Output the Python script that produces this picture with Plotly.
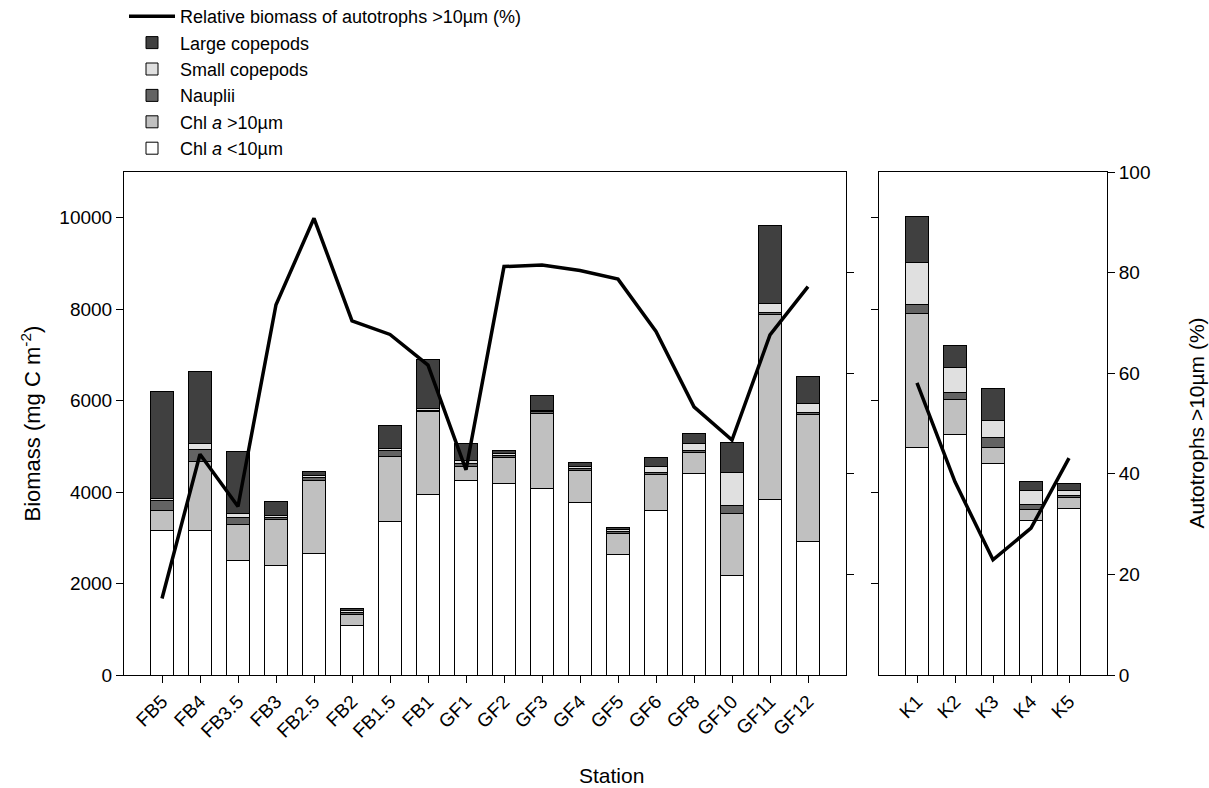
import plotly.graph_objects as go

# Stations in each region
fram_stations = ["FB5", "FB4", "FB3.5", "FB3", "FB2.5", "FB2", "FB1.5", "FB1",
                 "GF1", "GF2", "GF3", "GF4", "GF5", "GF6", "GF8", "GF10", "GF11", "GF12"]
k_stations = ["K1", "K2", "K3", "K4", "K5"]

# Biomass components (mg C m-2), Fram/GF transect
chl_small_f = [3150, 3170, 2510, 2400, 2660, 1080, 3355, 3950, 4260, 4180, 4070, 3770, 2640, 3595, 4400, 2180, 3840, 2930]
chl_large_f = [440, 1510, 790, 1010, 1600, 240, 1420, 1810, 310, 570, 1655, 695, 445, 780, 465, 1345, 4040, 2775]
nauplii_f = [220, 255, 150, 40, 60, 50, 125, 30, 60, 60, 30, 60, 50, 60, 45, 180, 40, 40]
small_cop_f = [50, 125, 80, 40, 50, 30, 60, 30, 60, 40, 30, 40, 40, 130, 160, 730, 200, 190]
large_cop_f = [2330, 1575, 1350, 310, 80, 50, 500, 1090, 370, 50, 335, 85, 55, 190, 210, 650, 1710, 600]

# Biomass components (mg C m-2), K transect
chl_small_k = [4980, 5265, 4615, 3375, 3640]
chl_large_k = [2930, 750, 365, 235, 250]
nauplii_k = [185, 160, 205, 110, 30]
small_cop_k = [935, 555, 380, 315, 105]
large_cop_k = [1005, 465, 695, 190, 160]

# Relative biomass of autotrophs >10 um (%)
rel_auto_f = [15.2, 43.9, 33.5, 73.6, 90.8, 70.4, 67.7, 61.6, 40.8, 81.2, 81.5, 80.4, 78.7, 68.3, 53.3, 46.7, 67.6, 77.2]
rel_auto_k = [58.1, 38.4, 22.9, 29.2, 43.1]

FONT = "Arial, Liberation Sans, sans-serif"
BAR_W = 0.6

components = [
    ("Chl <i>a</i> <10µm", "#ffffff", chl_small_f, chl_small_k),
    ("Chl <i>a</i> >10µm", "#c0c0c0", chl_large_f, chl_large_k),
    ("Nauplii", "#636363", nauplii_f, nauplii_k),
    ("Small copepods", "#e0e0e0", small_cop_f, small_cop_k),
    ("Large copepods", "#404040", large_cop_f, large_cop_k),
]

fig = go.Figure()
for name, color, vals_f, vals_k in components:
    marker = dict(color=color, line=dict(color="black", width=1))
    fig.add_trace(go.Bar(x=fram_stations, y=vals_f, name=name, marker=marker,
                         width=BAR_W, xaxis="x", yaxis="y", legendgroup=name))
    fig.add_trace(go.Bar(x=k_stations, y=vals_k, name=name, marker=marker,
                         width=BAR_W, xaxis="x2", yaxis="y2", legendgroup=name,
                         showlegend=False))

line_style = dict(color="black", width=3.5)
fig.add_trace(go.Scatter(x=fram_stations, y=rel_auto_f, mode="lines", line=line_style,
                         name="Relative biomass of autotrophs >10µm (%)",
                         xaxis="x", yaxis="y3", legendgroup="rel"))
fig.add_trace(go.Scatter(x=k_stations, y=rel_auto_k, mode="lines", line=line_style,
                         name="Relative biomass of autotrophs >10µm (%)",
                         xaxis="x2", yaxis="y4", legendgroup="rel", showlegend=False))

W, H = 1209, 788
ML, MR, MT, MB = 124, 102, 172, 113
pw = W - ML - MR
ph = H - MT - MB
split_l = (846 - ML) / pw
split_r = (879 - ML) / pw

axis_common = dict(showline=True, linecolor="black", linewidth=1, showgrid=False,
                   zeroline=False, ticks="outside", ticklen=7, tickwidth=1,
                   tickcolor="black", tickfont=dict(family=FONT, size=19, color="black"))

fig.update_layout(
    width=W, height=H,
    margin=dict(l=ML, r=MR, t=MT, b=MB, autoexpand=False),
    paper_bgcolor="white", plot_bgcolor="white",
    barmode="stack",
    font=dict(family=FONT, size=19, color="black"),
    xaxis=dict(domain=[0, split_l], anchor="y", type="category",
               categoryorder="array", categoryarray=fram_stations,
               range=[-1, len(fram_stations)], tickangle=-45, mirror=True, **axis_common),
    xaxis2=dict(domain=[split_r, 1], anchor="y2", type="category",
                categoryorder="array", categoryarray=k_stations,
                range=[-1, len(k_stations)], tickangle=-45, mirror=True, **axis_common),
    yaxis=dict(domain=[0, 1], anchor="x", range=[0, 11000], tickformat="d",
               tickvals=list(range(0, 10001, 2000)), mirror=True, **axis_common),
    yaxis2=dict(domain=[0, 1], anchor="x2", range=[0, 11000], matches="y",
                tickvals=list(range(2000, 10001, 2000)), showticklabels=False,
                mirror=True, **axis_common),
    yaxis3=dict(overlaying="y", anchor="x", side="right", range=[0, 100],
                tickvals=[20, 40, 60, 80], showticklabels=False,
                **{**axis_common, "showline": False}),
    yaxis4=dict(overlaying="y2", anchor="x2", side="right", range=[0, 100],
                tickvals=list(range(0, 101, 20)), **{**axis_common, "showline": False}),
    legend=dict(x=0, y=1 + (MT + 2) / ph, xanchor="left", yanchor="top",
                traceorder="reversed", font=dict(family=FONT, size=18),
                bgcolor="rgba(0,0,0,0)", tracegroupgap=0, itemwidth=46),
    showlegend=True,
)

fig.add_annotation(text="Station", xref="paper", yref="paper",
                   x=(611 - ML) / pw, y=-(775 - (MT + ph)) / ph,
                   showarrow=False, font=dict(family=FONT, size=21), xanchor="center", yanchor="middle")
fig.add_annotation(text="Biomass (mg C m<sup>-2</sup>)", xref="paper", yref="paper",
                   x=(30 - ML) / pw, y=0.5, textangle=-90,
                   showarrow=False, font=dict(family=FONT, size=22), xanchor="center", yanchor="middle")
fig.add_annotation(text="Autotrophs >10µm (%)", xref="paper", yref="paper",
                   x=(1196 - ML) / pw, y=0.5, textangle=-90,
                   showarrow=False, font=dict(family=FONT, size=21), xanchor="center", yanchor="middle")

fig.write_html("out.html")
